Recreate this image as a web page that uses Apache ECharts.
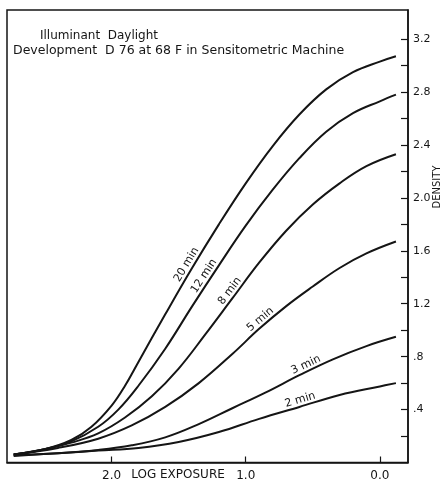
<!DOCTYPE html>
<html>
<head>
<meta charset="utf-8">
<script src="https://cdn.jsdelivr.net/npm/echarts@6/dist/echarts.min.js"></script>
<style>
  html, body { margin: 0; padding: 0; background: #fff; }
  #chart { width: 446px; height: 485px; }
</style>
</head>
<body>
<div id="chart"></div>
<script>
// ---- data (log exposure, density) ----
const curveLabels = ['20 min', '12 min', '8 min', '5 min', '3 min', '2 min'];
const curve20 = [[2.73,0.06],[2.5,0.10],[2.3,0.17],[2.15,0.27],[2.0,0.43],[1.9,0.58],[1.8,0.76],[1.6,1.12],[1.4,1.47],[1.2,1.80],[1.0,2.11],[0.8,2.39],[0.6,2.63],[0.4,2.82],[0.2,2.95],[0.0,3.03],[-0.12,3.07]];
const curve12 = [[2.73,0.06],[2.5,0.10],[2.3,0.16],[2.1,0.27],[1.95,0.40],[1.8,0.58],[1.6,0.86],[1.4,1.18],[1.2,1.49],[1.0,1.79],[0.8,2.06],[0.6,2.30],[0.4,2.50],[0.2,2.64],[0.0,2.73],[-0.12,2.78]];
const curve8  = [[2.73,0.06],[2.5,0.10],[2.3,0.15],[2.1,0.22],[1.9,0.34],[1.7,0.50],[1.5,0.71],[1.3,0.97],[1.1,1.24],[0.9,1.51],[0.7,1.75],[0.5,1.95],[0.3,2.11],[0.1,2.24],[-0.12,2.33]];
const curve5  = [[2.73,0.06],[2.4,0.11],[2.1,0.18],[1.85,0.28],[1.6,0.42],[1.35,0.60],[1.1,0.82],[0.9,1.01],[0.7,1.18],[0.5,1.33],[0.3,1.47],[0.1,1.58],[-0.12,1.67]];
const curve3  = [[2.73,0.055],[2.4,0.07],[2.1,0.095],[1.85,0.13],[1.6,0.19],[1.35,0.29],[1.1,0.41],[0.85,0.53],[0.6,0.66],[0.35,0.78],[0.1,0.88],[-0.12,0.95]];
const curve2  = [[2.73,0.05],[2.4,0.07],[2.1,0.09],[1.8,0.11],[1.5,0.155],[1.2,0.23],[0.9,0.33],[0.6,0.42],[0.3,0.51],[0.0,0.575],[-0.12,0.60]];
// log-exposure position along each curve where its label sits
const labelAnchors = [1.40, 1.27, 1.08, 0.86, 0.53, 0.58];
const xTickValues = [2.0, 1.0, 0.0];
const yTickValues = [0.2,0.4,0.6,0.8,1.0,1.2,1.4,1.6,1.8,2.0,2.2,2.4,2.6,2.8,3.0,3.2];
const yLabelValues = [0.4,0.8,1.2,1.6,2.0,2.4,2.8,3.2];

const FONT = 'DejaVu Sans';
const INK = '#151515';

const chart = echarts.init(document.getElementById('chart'), null, { renderer: 'canvas' });

const allCurves = [curve20, curve12, curve8, curve5, curve3, curve2];
const series = allCurves.map((d, i) => ({
  type: 'line',
  name: curveLabels[i],
  data: d,
  smooth: 0.4,
  showSymbol: false,
  lineStyle: { color: INK, width: 2 },
  silent: true,
  z: 3
}));

const staticGraphics = [
  { type: 'text', x: 40, y: 36, style: { text: 'Illuminant  Daylight', font: '12px "' + FONT + '"', fill: INK, textVerticalAlign: 'middle' } },
  { type: 'text', x: 13, y: 51, style: { text: 'Development  D 76 at 68 F in Sensitometric Machine', font: '12.5px "' + FONT + '"', fill: INK, textVerticalAlign: 'middle' } },
  { type: 'text', x: 178, y: 475, style: { text: 'LOG EXPOSURE', font: '12px "' + FONT + '"', fill: INK, textAlign: 'center', textVerticalAlign: 'middle' } },
  { type: 'text', x: 437, y: 187, rotation: Math.PI / 2, style: { text: 'DENSITY', font: '10px "' + FONT + '"', fill: INK, textAlign: 'center', textVerticalAlign: 'middle' } }
];

const option = {
  backgroundColor: '#ffffff',
  animation: false,
  grid: {
    left: 7, right: 38, top: 10, bottom: 22.5,
    show: true, borderColor: INK, borderWidth: 1.5, backgroundColor: 'transparent'
  },
  xAxis: {
    type: 'value',
    inverse: true,
    min: -0.21,
    max: 2.78,
    splitLine: { show: false },
    axisLine: { show: true, onZero: false, lineStyle: { color: INK, width: 1.5 } },
    axisTick: { show: true, inside: true, length: 6, customValues: xTickValues, lineStyle: { color: INK, width: 1.2 } },
    axisLabel: {
      show: true, customValues: xTickValues, margin: 7,
      color: INK, fontFamily: FONT, fontSize: 12,
      formatter: v => v.toFixed(1)
    }
  },
  yAxis: {
    type: 'value',
    position: 'right',
    min: 0,
    max: 3.42,
    splitLine: { show: false },
    axisLine: { show: true, onZero: false, lineStyle: { color: INK, width: 1.5 } },
    axisTick: { show: true, inside: true, length: 7, customValues: yTickValues, lineStyle: { color: INK, width: 1.2 } },
    axisLabel: {
      show: true, customValues: yLabelValues, margin: 5,
      color: INK, fontFamily: FONT, fontSize: 11,
      formatter: v => (v < 1 ? '.' + Math.round(v * 10) : v.toFixed(1))
    }
  },
  series: series,
  graphic: staticGraphics
};

chart.setOption(option);

// density on a curve at a given log exposure (linear between read points)
function densityAt(curve, v) {
  for (let k = 0; k < curve.length - 1; k++) {
    const a = curve[k], b = curve[k + 1];
    if ((v <= a[0] && v >= b[0])) {
      const t = (a[0] - v) / (a[0] - b[0]);
      return a[1] + t * (b[1] - a[1]);
    }
  }
  return curve[curve.length - 1][1];
}

const labelGraphics = allCurves.map((c, i) => {
  const v = labelAnchors[i];
  const p0 = chart.convertToPixel({ gridIndex: 0 }, [v + 0.05, densityAt(c, v + 0.05)]);
  const p1 = chart.convertToPixel({ gridIndex: 0 }, [v - 0.05, densityAt(c, v - 0.05)]);
  const pm = chart.convertToPixel({ gridIndex: 0 }, [v, densityAt(c, v)]);
  const dx = p1[0] - p0[0], dy = p1[1] - p0[1];
  const len = Math.sqrt(dx * dx + dy * dy);
  const ang = Math.atan2(-dy, dx);           // canvas y down
  // normal pointing to upper-left of the direction of travel
  const nx = dy / len, ny = -dx / len;
  const off = 6.5;
  return {
    type: 'text',
    x: pm[0] + nx * off,
    y: pm[1] + ny * off,
    rotation: ang,
    style: {
      text: curveLabels[i],
      font: '11px "' + FONT + '"',
      fill: INK,
      textAlign: 'center',
      textVerticalAlign: 'middle'
    },
    z: 10
  };
});

chart.setOption({ graphic: staticGraphics.concat(labelGraphics) });
</script>
</body>
</html>
